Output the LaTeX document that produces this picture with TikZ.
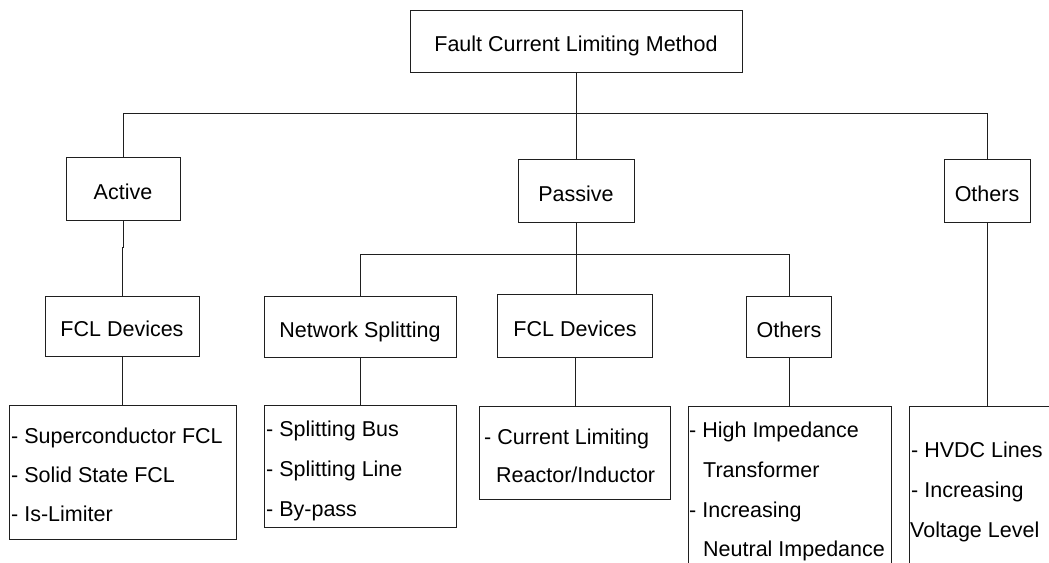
\documentclass[tikz,border=0pt]{standalone}
\usepackage{fontspec}
\setmainfont{Liberation Sans}
\definecolor{lc}{gray}{0.12}
\tikzset{
  box/.style={draw=lc, line width=0.9pt, inner sep=0pt, text height=21pt, text depth=0pt, font=\fontsize{21.5}{25}\selectfont},
  conn/.style={draw=lc, line width=0.9pt},
  item/.style={inner sep=0pt, anchor=base west, font=\fontsize{21.5}{25}\selectfont}
}
\begin{document}
\begin{tikzpicture}[x=1pt,y=-1pt]
\useasboundingbox (0,0) rectangle (1049,562);
\fill[white] (0,0) rectangle (1049,562);

% level 0 and 1
\node[box, minimum width=332pt, minimum height=62pt] (root) at (576,41) {Fault Current Limiting Method};
\node[box, minimum width=114pt, minimum height=63pt] (active) at (123,188.5) {Active};
\node[box, minimum width=116pt, minimum height=63pt] (passive) at (576,190.5) {Passive};
\node[box, minimum width=86pt, minimum height=63pt] (others) at (987,190.5) {Others};

% level 2
\node[box, minimum width=154pt, minimum height=60pt] (afcl) at (122,326) {FCL Devices};
\node[box, minimum width=192pt, minimum height=61pt] (net) at (360,326.5) {Network Splitting};
\node[box, minimum width=155pt, minimum height=63pt] (pfcl) at (575,325.5) {FCL Devices};
\node[box, minimum width=85pt, minimum height=61pt] (poth) at (789,326.5) {Others};

% level 3 boxes
\node[box, minimum width=227pt, minimum height=134pt] (alist) at (122.5,472) {};
\node[box, minimum width=192pt, minimum height=122pt] (nlist) at (360,466) {};
\node[box, minimum width=191pt, minimum height=93pt] (flist) at (574.5,452.5) {};
\coordinate (olt) at (688,406);
\coordinate (ort) at (891,406);
\coordinate (olb) at (688,566);
\coordinate (orb) at (891,566);
\draw[conn] (olb) -- (olt) -- (ort) -- (orb);
\coordinate (rlt) at (909,406);
\coordinate (rlb) at (909,566);
\coordinate (rrt) at (1053,406);
\draw[conn] (rlb) -- (rlt) -- (rrt);

% connectors
\coordinate (j1) at (576,113);
\coordinate (j2) at (576,254);
\draw[conn] (root.south) -- (passive.north);
\draw[conn] (active.north) |- (others.north |- j1) -- (others.north);
\draw[conn] (passive.south) -- (pfcl.north -| passive.south);
\draw[conn] (net.north) |- (poth.north |- j2) -- (poth.north);
\draw[conn] (active.south) -- ++(0,27) -| (afcl.north);
\draw[conn] (afcl.south) -- (afcl.south |- alist.north);
\draw[conn] (net.south) -- (nlist.north);
\draw[conn] (pfcl.south) -- (pfcl.south |- flist.north);
\draw[conn] (poth.south) -- (poth.south |- olt);
\draw[conn] (others.south) -- (others.south |- rlt);

% list texts
\node[item] (a1) at (11,443) {- Superconductor FCL};
\node[item] (a2) at (11,482) {- Solid State FCL};
\node[item] (a3) at (11,521) {- Is-Limiter};

\node[item] (n1) at (266,436) {- Splitting Bus};
\node[item] (n2) at (266,476) {- Splitting Line};
\node[item] (n3) at (266,516) {- By-pass};

\node[item] (f1) at (484,444) {- Current Limiting};
\node[item] (f2) at (496,482) {Reactor/Inductor};

\node[item] (o1) at (689,437) {- High Impedance};
\node[item] (o2) at (703,477) {Transformer};
\node[item] (o3) at (689,517) {- Increasing};
\node[item] (o4) at (703,556) {Neutral Impedance};

\node[item] (r1) at (911,457) {- HVDC Lines};
\node[item] (r2) at (911,497) {- Increasing};
\node[item] (r3) at (910,537) {Voltage Level};
\end{tikzpicture}
\end{document}
